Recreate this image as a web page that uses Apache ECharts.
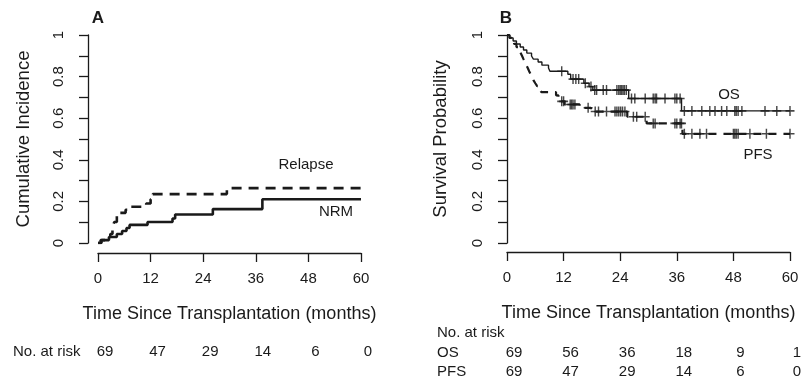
<!DOCTYPE html>
<html>
<head>
<meta charset="utf-8">
<script src="https://cdn.jsdelivr.net/npm/echarts@6/dist/echarts.min.js"></script>
<style>
html,body{margin:0;padding:0;background:#fff;}
#chart{width:803px;height:386px;}
</style>
</head>
<body>
<div id="chart"></div>
<script>
// ---- data ----
const timeTicks = [0, 12, 24, 36, 48, 60];

// Panel A: cumulative incidence
const relapseTime = [0, 0.8, 1.8, 2.8, 3.3, 3.7, 4.3, 4.8, 6.3, 7.0, 11.0, 12.0, 12.5, 29.4, 60];
const relapseCum  = [0, 0.014, 0.029, 0.043, 0.072, 0.101, 0.13, 0.145, 0.16, 0.174, 0.19, 0.21, 0.235, 0.264, 0.264];
const nrmTime = [0, 0.6, 2.5, 4.3, 5.5, 6.5, 7.2, 11.3, 17.0, 17.6, 26.2, 37.5, 60];
const nrmCum  = [0, 0.014, 0.029, 0.043, 0.058, 0.072, 0.087, 0.101, 0.118, 0.137, 0.163, 0.21, 0.21];
const riskA = [69, 47, 29, 14, 6, 0];

// Panel B: survival
const osTime = [0, 0.6, 1.3, 2.0, 2.8, 3.5, 4.2, 5.2, 5.6, 6.6, 7.4, 8.8, 9.1, 12.9, 13.5, 16.3, 17.4, 18.2, 25.8, 37.0, 60];
const osSurv = [1, 0.986, 0.971, 0.957, 0.942, 0.928, 0.913, 0.899, 0.884, 0.870, 0.855, 0.841, 0.826, 0.811, 0.788, 0.768, 0.752, 0.735, 0.695, 0.635, 0.635];
const pfsTime = [0, 0.5, 1.0, 1.5, 2.0, 2.5, 2.9, 3.2, 3.5, 3.8, 4.1, 4.4, 4.7, 5.0, 5.3, 5.6, 6.0, 6.4, 6.9, 7.3, 10.4, 10.9, 11.4, 12.2, 15.4, 17.8, 25.5, 29.6, 37.2, 60];
const pfsSurv = [1, 0.986, 0.971, 0.957, 0.942, 0.928, 0.913, 0.899, 0.884, 0.870, 0.855, 0.841, 0.826, 0.812, 0.797, 0.783, 0.768, 0.754, 0.739, 0.725, 0.710, 0.696, 0.681, 0.666, 0.650, 0.632, 0.607, 0.575, 0.525, 0.525];
const osCensor = [11.6, 14.0, 14.6, 15.2, 16.6, 17.8, 18.6, 19.0, 20.4, 21.1, 23.3, 23.7, 24.0, 24.3, 24.6, 24.9, 25.3, 26.4, 27.1, 29.3, 31.0, 31.4, 31.7, 33.5, 35.6, 36.0, 36.7, 37.6, 39.2, 41.3, 43.0, 44.1, 45.5, 46.6, 48.3, 48.6, 49.0, 49.8, 54.7, 57.2, 60.0];
const pfsCensor = [11.6, 12.0, 13.4, 13.7, 14.0, 14.4, 17.2, 18.7, 19.4, 21.1, 22.9, 23.3, 23.7, 24.1, 24.5, 25.0, 26.8, 27.5, 29.3, 31.0, 31.4, 35.6, 36.0, 36.7, 37.0, 37.6, 39.2, 40.9, 42.3, 48.0, 48.3, 48.6, 49.0, 51.5, 55.0, 60.0];
const riskOS  = [69, 56, 36, 18, 9, 1];
const riskPFS = [69, 47, 29, 14, 6, 0];

// ---- helpers ----
const FONT = "'Liberation Sans', Arial, Helvetica, sans-serif";
const INK = '#1a1a1a';
const pairs = (t, v) => t.map((x, i) => [x, v[i]]);
const stepValue = (t, v, x) => { let y = v[0]; for (let i = 0; i < t.length; i++) { if (t[i] <= x) y = v[i]; } return y; };
const censorPts = (c, t, v) => c.map(x => [x, stepValue(t, v, x)]);
const yFmt = v => (Math.round(v * 10) % 2 === 0) ? String(+v.toFixed(1)) : '';
const riskFmt = arr => v => { const i = timeTicks.indexOf(Math.round(v)); return i >= 0 ? String(arr[i]) : ''; };
const PLUS = 'path://M4.2,0H5.8V4.2H10V5.8H5.8V10H4.2V5.8H0V4.2H4.2Z';

function mainX(grid, offset) {
  return {
    type: 'value', gridIndex: grid, position: 'bottom', min: 0, max: 60, interval: 12, offset: offset,
    axisLine: { show: true, onZero: false, lineStyle: { color: INK, width: 1.3 } },
    axisTick: { show: true, length: 9, lineStyle: { color: INK, width: 1.3 } },
    axisLabel: { color: INK, fontSize: 15, fontFamily: FONT, margin: 18, showMinLabel: true, showMaxLabel: true },
    splitLine: { show: false },
    name: 'Time Since Transplantation (months)', nameLocation: 'middle', nameGap: 52,
    nameTextStyle: { color: INK, fontSize: 18, fontFamily: FONT }
  };
}
function riskX(grid, offset, arr, margin) {
  return {
    type: 'value', gridIndex: grid, position: 'bottom', min: 0, max: 60, interval: 12, offset: offset,
    axisLine: { show: false }, axisTick: { show: false }, splitLine: { show: false },
    axisLabel: { color: INK, fontSize: 15, fontFamily: FONT, margin: margin, padding: [0, 0, 0, 14],
      showMinLabel: true, showMaxLabel: true, formatter: riskFmt(arr) }
  };
}
function mainY(grid, offset, name, gap) {
  return {
    type: 'value', gridIndex: grid, position: 'left', min: 0, max: 1, interval: 0.1, offset: offset,
    axisLine: { show: true, onZero: false, lineStyle: { color: INK, width: 1.3 } },
    axisTick: { show: true, length: 9, lineStyle: { color: INK, width: 1.3 } },
    axisLabel: { color: INK, fontSize: 15, fontFamily: FONT, rotate: 90, margin: 22, formatter: yFmt,
      showMinLabel: true, showMaxLabel: true },
    splitLine: { show: false },
    name: name, nameLocation: 'middle', nameGap: gap,
    nameTextStyle: { color: INK, fontSize: 18.5, fontFamily: FONT }
  };
}
function txt(x, y, s, opt) {
  return { type: 'text', x: x, y: y, silent: true,
    style: Object.assign({ text: s, fill: INK, fontSize: 15, fontFamily: FONT, align: 'center', verticalAlign: 'middle' }, opt || {}) };
}

const chart = echarts.init(document.getElementById('chart'), null, { renderer: 'canvas' });
chart.setOption({
  backgroundColor: '#ffffff',
  animation: false,
  grid: [
    { left: 98, top: 35, width: 263, height: 208, containLabel: false, outerBoundsMode: 'none' },
    { left: 507, top: 35, width: 283, height: 208, containLabel: false, outerBoundsMode: 'none' }
  ],
  xAxis: [
    mainX(0, 10),
    riskX(0, 10, riskA, 91),
    mainX(1, 9),
    riskX(1, 9, riskOS, 93),
    riskX(1, 9, riskPFS, 112)
  ],
  yAxis: [
    mainY(0, 10, 'Cumulative Incidence', 55),
    mainY(1, 0, 'Survival Probability', 57)
  ],
  series: [
    { type: 'line', name: 'Relapse', xAxisIndex: 0, yAxisIndex: 0, step: 'end', symbol: 'none',
      data: pairs(relapseTime, relapseCum), lineStyle: { color: INK, width: 2.6, type: [10, 7] } },
    { type: 'line', name: 'NRM', xAxisIndex: 0, yAxisIndex: 0, step: 'end', symbol: 'none',
      data: pairs(nrmTime, nrmCum), lineStyle: { color: INK, width: 2.6 } },
    { type: 'line', name: 'OS', xAxisIndex: 2, yAxisIndex: 1, step: 'end', symbol: 'none',
      data: pairs(osTime, osSurv), lineStyle: { color: INK, width: 1.4 } },
    { type: 'line', name: 'PFS', xAxisIndex: 2, yAxisIndex: 1, step: 'end', symbol: 'none',
      data: pairs(pfsTime, pfsSurv), lineStyle: { color: INK, width: 2.2, type: [8, 7] } },
    { type: 'scatter', name: 'OS censored', xAxisIndex: 2, yAxisIndex: 1, symbol: PLUS, symbolSize: [9, 10],
      data: censorPts(osCensor, osTime, osSurv), itemStyle: { color: INK } },
    { type: 'scatter', name: 'PFS censored', xAxisIndex: 2, yAxisIndex: 1, symbol: PLUS, symbolSize: [9, 10],
      data: censorPts(pfsCensor, pfsTime, pfsSurv), itemStyle: { color: INK } }
  ],
  graphic: [
    txt(98, 18, 'A', { fontWeight: 'bold', fontSize: 17 }),
    txt(506, 18, 'B', { fontWeight: 'bold', fontSize: 17 }),
    txt(306, 165, 'Relapse'),
    txt(336, 212, 'NRM'),
    txt(729, 95, 'OS'),
    txt(758, 155, 'PFS'),
    txt(13, 352, 'No. at risk', { align: 'left' }),
    txt(437, 333, 'No. at risk', { align: 'left' }),
    txt(437, 353, 'OS', { align: 'left' }),
    txt(437, 372, 'PFS', { align: 'left' })
  ]
});
</script>
</body>
</html>
